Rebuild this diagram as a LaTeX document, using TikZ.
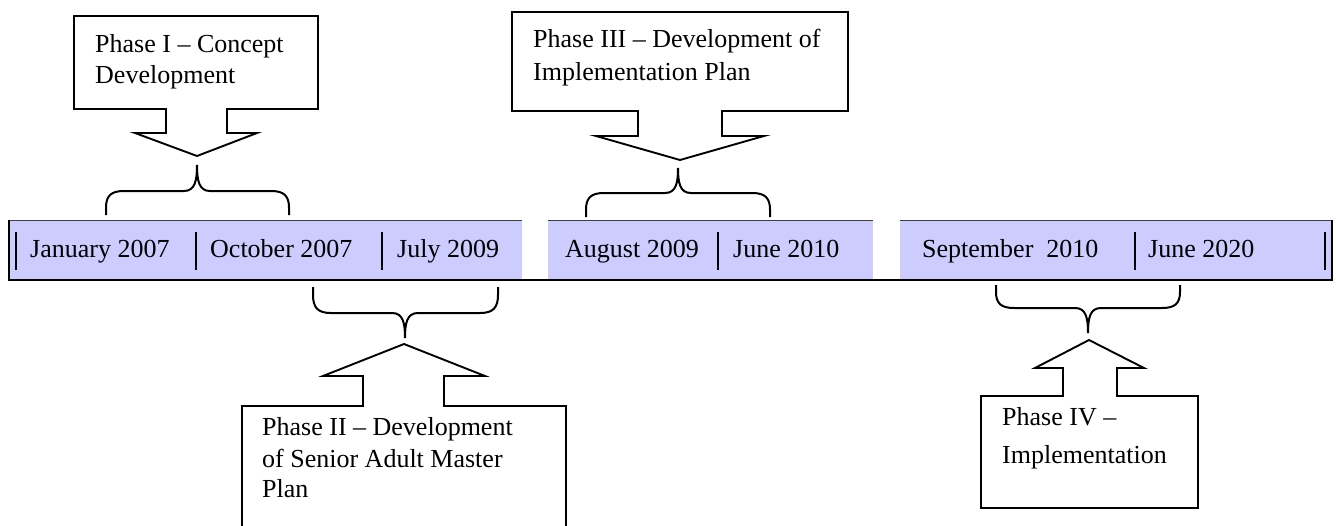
\documentclass[tikz,border=0pt]{standalone}
\usepackage{fontspec}
\setmainfont{Liberation Serif}
\definecolor{barfill}{HTML}{CCCCFF}
\newcommand\mybrace[6]{%
  \draw[bracestyle] (#1,#3) -- (#1,{#4+0.7*(#3-#4)})
   .. controls (#1,{#4+0.2*(#3-#4)}) and (#1+5,#4) .. (#1+18,#4)
   -- (#5-13,#4) .. controls (#5-2,#4) and (#5,{#4+0.4*(#6-#4)}) .. (#5,#6)
   .. controls (#5,{#4+0.4*(#6-#4)}) and (#5+2,#4) .. (#5+13,#4)
   -- (#2-18,#4) .. controls (#2-5,#4) and (#2,{#4+0.2*(#3-#4)}) .. (#2,{#4+0.7*(#3-#4)}) -- (#2,#3);}
\begin{document}
\begin{tikzpicture}[x=1pt,y=-1pt,
  callout/.style={draw=black,line width=1.9pt,fill=white,line join=miter},
  bracestyle/.style={draw=black,line width=2pt},
  lbl/.style={anchor=base west,inner sep=0pt,font=\fontsize{26}{31}\selectfont},
  sep/.style={draw=black,line width=2pt}]
\useasboundingbox (0,0) rectangle (1336,525);
\clip (0,0) rectangle (1336,525);
% timeline bar
\fill[barfill] (9,220) rectangle (1332,280);
\fill[white] (522,218) rectangle (548,279);
\fill[white] (873,218) rectangle (900,279);
\draw[black!75,line width=1.2pt] (9,220.5) -- (522,220.5);
\draw[black!75,line width=1.2pt] (548,220.5) -- (873,220.5);
\draw[black!75,line width=1.2pt] (900,220.5) -- (1332,220.5);
\draw[line width=2.4pt] (9,220) -- (9,280) -- (1332,280) -- (1332,220);
\foreach \x in {16,196,382,718,1135,1325} \draw[sep] (\x,232) -- (\x,270);
% dates
\node[lbl] (d1) at (30,257) {January 2007};
\node[lbl] (d2) at (210,257) {October 2007};
\node[lbl] (d3) at (397,257) {July 2009};
\node[lbl] (d4) at (565,257) {August 2009};
\node[lbl] (d5) at (733,257) {June 2010};
\node[lbl] (d6) at (922,257) {September\ \ 2010};
\node[lbl] (d7) at (1148,257) {June 2020};
% braces
\mybrace{106}{289}{215}{191}{197}{165}
\mybrace{586}{770}{217}{193}{678}{168}
\mybrace{313}{498}{287}{313}{405}{338}
\mybrace{996}{1180}{285}{308}{1088}{333}
% callouts
\draw[callout] (74,16) -- (318,16) -- (318,109) -- (227,109) -- (227,133) -- (257,133)
  -- (197,156) -- (135,133) -- (166,133) -- (166,109) -- (74,109) -- cycle;
\draw[callout] (512,12) -- (848,12) -- (848,111) -- (722,111) -- (722,136) -- (764,136)
  -- (680,160) -- (596,136) -- (638,136) -- (638,111) -- (512,111) -- cycle;
\draw[callout] (242,540) -- (242,406) -- (363,406) -- (363,376) -- (323,376) -- (404,344)
  -- (485,376) -- (444,376) -- (444,406) -- (566,406) -- (566,540) -- cycle;
\draw[callout] (981,508) -- (981,396) -- (1063,396) -- (1063,368) -- (1035,368) -- (1089,340)
  -- (1144,368) -- (1117,368) -- (1117,396) -- (1198,396) -- (1198,508) -- cycle;
% callout texts
\node[lbl] (p1a) at (95,52) {Phase I – Concept};
\node[lbl] (p1b) at (95,83) {Development};
\node[lbl] (p3a) at (533,47) {Phase III – Development of};
\node[lbl] (p3b) at (533,80) {Implementation Plan};
\node[lbl] (p2a) at (262,435) {Phase II – Development};
\node[lbl] (p2b) at (262,467) {of Senior Adult Master};
\node[lbl] (p2c) at (262,497) {Plan};
\node[lbl] (p4a) at (1002,425) {Phase IV –};
\node[lbl] (p4b) at (1002,463) {Implementation};
\end{tikzpicture}
\end{document}
